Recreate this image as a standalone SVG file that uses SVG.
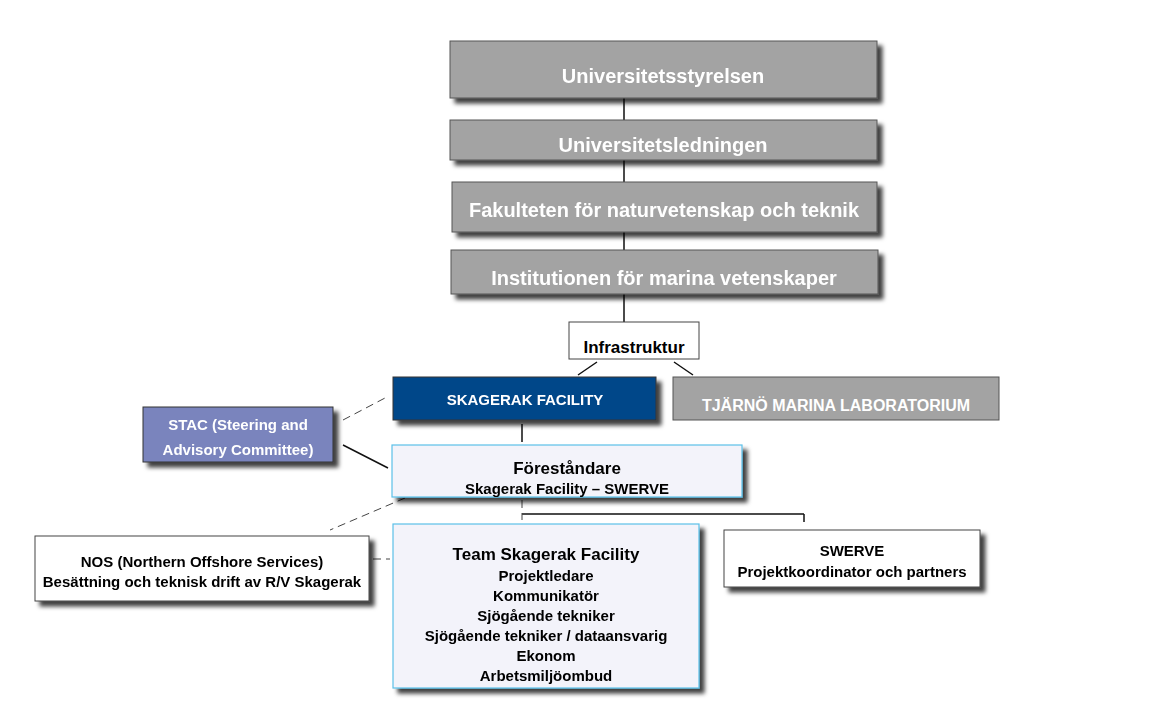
<svg xmlns="http://www.w3.org/2000/svg" width="1152" height="720" viewBox="0 0 1152 720">
<style>
text{font-family:"Liberation Sans",Arial,sans-serif;font-weight:bold;text-anchor:middle}
.g{fill:#a3a3a3;stroke:#555;stroke-width:1}
.gt{fill:#fff;font-size:20px}
.w{fill:#fff;stroke:#444;stroke-width:1}
.l{fill:#f3f3fa;stroke:#5bc0e8;stroke-width:1.2}
.c{stroke:#111;stroke-width:1.5;fill:none}
.d{stroke:#444;stroke-width:1;fill:none;stroke-dasharray:8,5}
</style>
<defs><filter id="s" x="-10%" y="-10%" width="130%" height="140%"><feDropShadow dx="5" dy="5" stdDeviation="2" flood-color="#000" flood-opacity="0.75"/></filter></defs>
<rect width="1152" height="720" fill="#fff"/>
<g id="connectors">
<path class="c" d="M624 98V120M624 160V182M624 232V250M624 294V322M597 362L578 375M674 362L693 375M522 424V442M343 445L388 468M522 514H804M804 514V522"/>
<path class="d" d="M343 420L385 398M405 498L330 530M373 559H390M522 500V520"/>
</g>
<g id="n1" filter="url(#s)"><rect class="g" x="450" y="41" width="427" height="57"/><text class="gt" x="663" y="83">Universitetsstyrelsen</text></g>
<g id="n2" filter="url(#s)"><rect class="g" x="450" y="120" width="427" height="40"/><text class="gt" x="663" y="152">Universitetsledningen</text></g>
<g id="n3" filter="url(#s)"><rect class="g" x="452" y="182" width="425" height="50"/><text class="gt" x="664" y="217">Fakulteten för naturvetenskap och teknik</text></g>
<g id="n4" filter="url(#s)"><rect class="g" x="451" y="250" width="427" height="44"/><text class="gt" x="664" y="285">Institutionen för marina vetenskaper</text></g>
<g id="n5"><rect class="w" x="569" y="322" width="130" height="37"/><text x="634" y="353" font-size="17">Infrastruktur</text></g>
<g id="n6" filter="url(#s)"><rect x="393" y="377" width="263" height="43" fill="#054789" stroke="#333"/><text x="525" y="405" font-size="15" fill="#fff">SKAGERAK FACILITY</text></g>
<g id="n7"><rect class="g" x="673" y="377" width="326" height="43"/><text x="836" y="411" font-size="16" fill="#fff">TJÄRNÖ MARINA LABORATORIUM</text></g>
<g id="n8" filter="url(#s)"><rect x="143" y="407" width="190" height="55" fill="#7a84bd" stroke="#333"/><text x="238" y="430" font-size="15" fill="#fff">STAC (Steering and</text><text x="238" y="455" font-size="15" fill="#fff">Advisory Committee)</text></g>
<g id="n9" filter="url(#s)"><rect class="l" x="392" y="445" width="350" height="52"/><text x="567" y="474" font-size="17">Föreståndare</text><text x="567" y="494" font-size="15">Skagerak Facility – SWERVE</text></g>
<g id="n10" filter="url(#s)"><rect class="w" x="35" y="536" width="334" height="65"/><text x="202" y="567" font-size="15">NOS (Northern Offshore Services)</text><text x="202" y="587" font-size="15" font-weight="normal">Besättning och teknisk drift av R/V Skagerak</text></g>
<g id="n11" filter="url(#s)"><rect class="l" x="393" y="524" width="306" height="164"/>
<text x="546" y="560" font-size="17">Team Skagerak Facility</text>
<text x="546" y="581" font-size="15">Projektledare</text>
<text x="546" y="601" font-size="15">Kommunikatör</text>
<text x="546" y="621" font-size="15">Sjögående tekniker</text>
<text x="546" y="641" font-size="15">Sjögående tekniker / dataansvarig</text>
<text x="546" y="661" font-size="15">Ekonom</text>
<text x="546" y="681" font-size="15">Arbetsmiljöombud</text></g>
<g id="n12" filter="url(#s)"><rect class="w" x="724" y="530" width="256" height="57"/><text x="852" y="556" font-size="15">SWERVE</text><text x="852" y="577" font-size="15" font-weight="normal">Projektkoordinator och partners</text></g>
</svg>
